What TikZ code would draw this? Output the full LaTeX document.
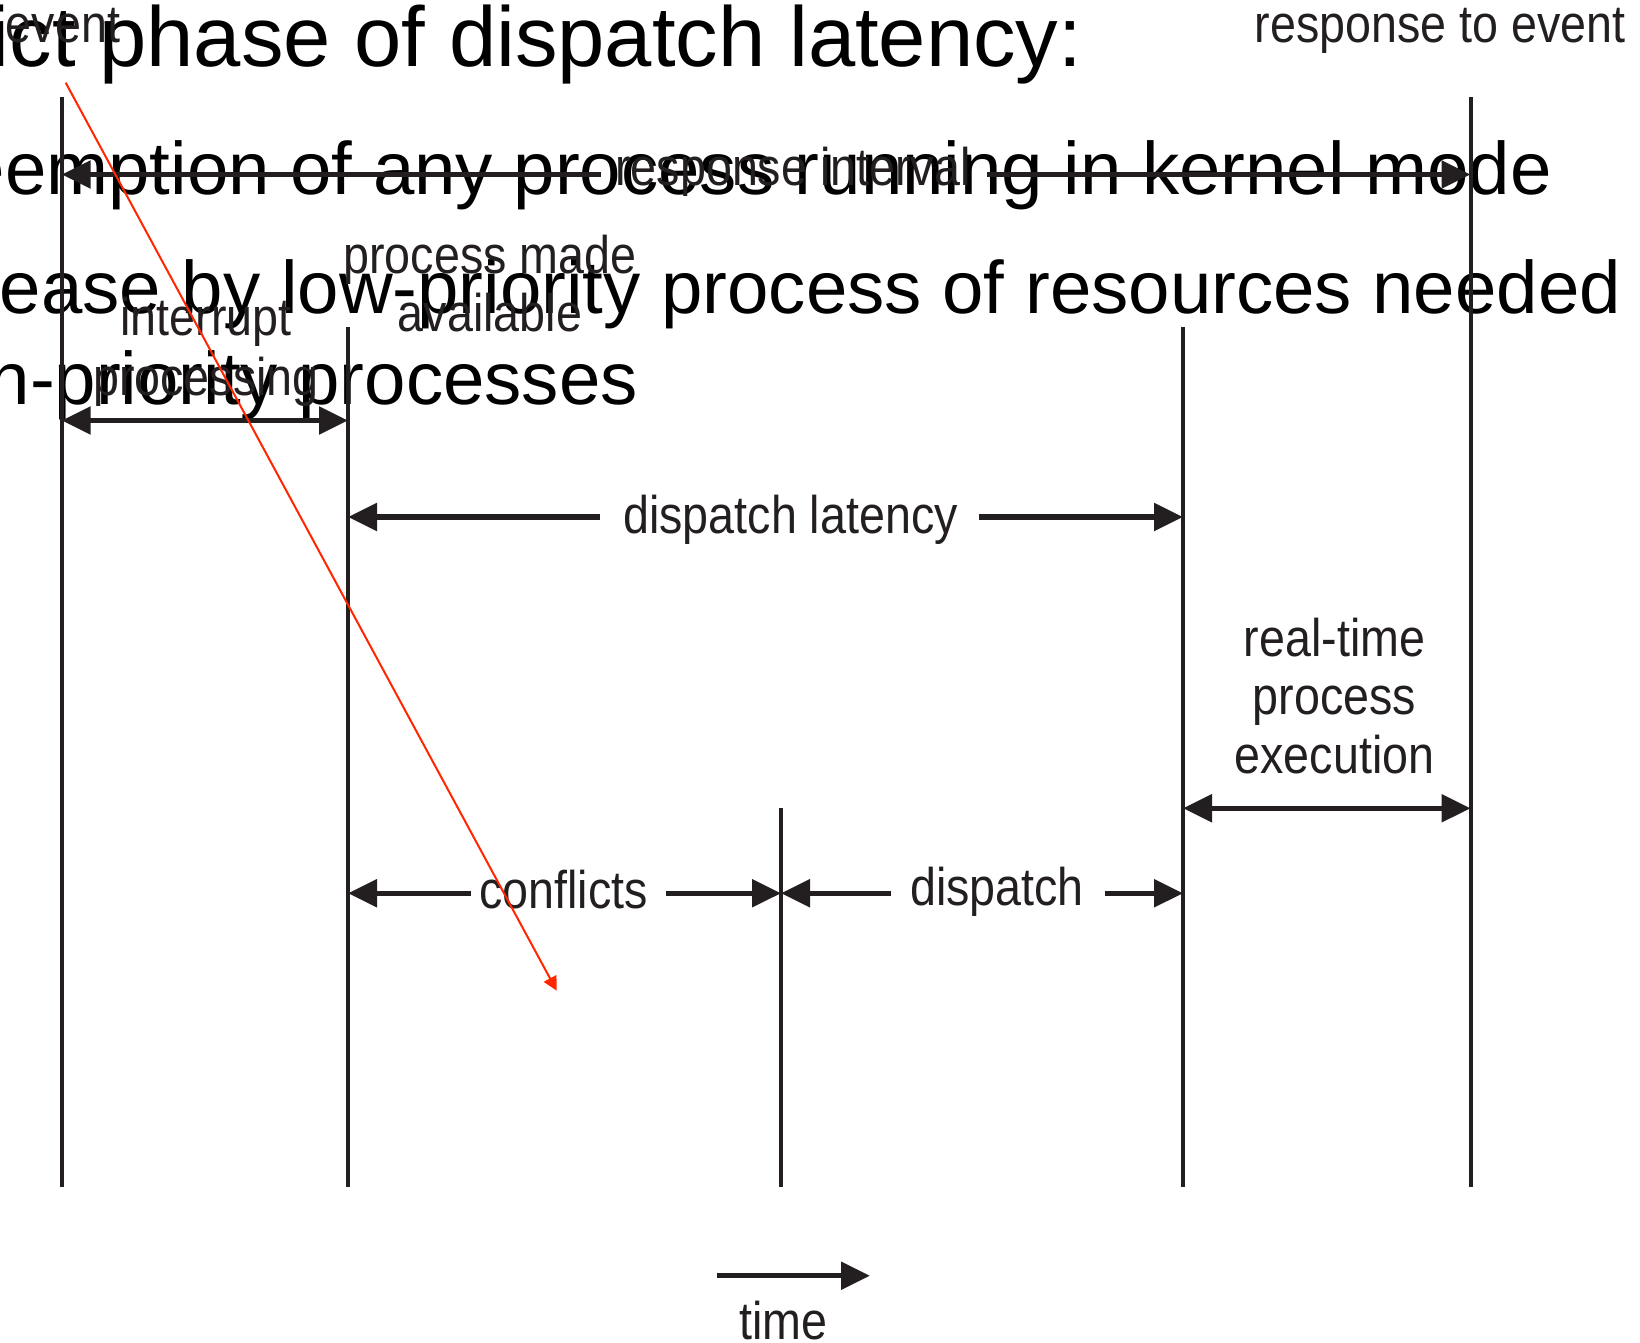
\documentclass[tikz,border=0pt]{standalone}
\usepackage{fontspec}
\setmainfont{Liberation Sans}
\newfontfamily\lblfont{Liberation Sans}[FakeStretch=0.88]
\usetikzlibrary{arrows.meta}
\definecolor{ink}{HTML}{231F20}
\definecolor{alert}{RGB}{255,38,0}
\tikzset{
  bigtip/.tip={Triangle[length=14.5pt,width=13.5pt]},
  smalltip/.tip={Triangle[length=7pt,width=7pt]},
  lbl/.style={font=\lblfont\fontsize{26.5pt}{29pt}\selectfont, text=ink, inner sep=0pt, anchor=base},
  headline/.style={font=\fontsize{42.5pt}{48pt}\selectfont, text=black, inner sep=0pt, anchor=base west},
  subline/.style={font=\fontsize{37.2pt}{42pt}\selectfont, text=black, inner sep=0pt, anchor=base west},
  mark line/.style={draw=ink, line width=2pt},
  span/.style={draw=ink, line width=2.75pt, -bigtip},
  span both/.style={draw=ink, line width=2.75pt, bigtip-bigtip},
  pointer/.style={draw=alert, line width=1pt, -smalltip},
}
\begin{document}
\begin{tikzpicture}[x=0.5pt, y=-0.5pt]
\useasboundingbox (0,0) rectangle (1640,1343);
\clip (0,0) rectangle (1640,1343);

% slide text
\node[headline] (l1) at (-208,67) {Conflict phase of dispatch latency:};
\node[subline] (l2) at (-111,195) {Preemption of any process running in kernel mode};
\node[subline] (l3) at (-112,314) {Release by low-priority process of resources needed};
\node[subline] (l4) at (-111,404) {high-priority processes};

% time markers
\coordinate (v1t) at (61.7,97.5);   \coordinate (v1b) at (61.7,1187);
\coordinate (v2t) at (348,327);     \coordinate (v2b) at (348,1187);
\coordinate (v3t) at (781,808);     \coordinate (v3b) at (781,1187);
\coordinate (v4t) at (1183,327);    \coordinate (v4b) at (1183,1187);
\coordinate (v5t) at (1470.5,97.5); \coordinate (v5b) at (1470.5,1187);
\foreach \v in {1,...,5} \draw[mark line] (v\v t) -- (v\v b);

% marker labels
\node[lbl] (ev) at (63,43) {event};
\node[lbl] (rte) at (1440,43) {response to event};
\node[lbl] (pm1) at (490,273) {process made};
\node[lbl] (pm2) at (490,331.5) {available};

% response interval
\coordinate (riL) at (61.7,174.5);  \coordinate (riA) at (601,174.5);
\coordinate (riB) at (987,174.5);   \coordinate (riR) at (1470.5,174.5);
\draw[span] (riA) -- (riL);
\draw[span] (riB) -- (riR);
\node[lbl] (ri) at (793,185) {response interval};

% interrupt processing
\coordinate (ipL) at (61.7,420.5);  \coordinate (ipR) at (348,420.5);
\draw[span both] (ipL) -- (ipR);
\node[lbl] (ip1) at (206,335) {interrupt};
\node[lbl] (ip2) at (206,395) {processing};

% dispatch latency
\coordinate (dlL) at (348,517);     \coordinate (dlA) at (600,517);
\coordinate (dlB) at (978.5,517);   \coordinate (dlR) at (1183,517);
\draw[span] (dlA) -- (dlL);
\draw[span] (dlB) -- (dlR);
\node[lbl] (dl) at (790.5,533) {dispatch latency};

% real-time process execution
\coordinate (rtL) at (1183,808.3);  \coordinate (rtR) at (1470.5,808.3);
\draw[span both] (rtL) -- (rtR);
\node[lbl] (rt1) at (1334.5,656.7) {real-time};
\node[lbl] (rt2) at (1334.5,714) {process};
\node[lbl] (rt3) at (1334.5,773) {execution};

% conflicts
\coordinate (cfL) at (348,893.3);   \coordinate (cfA) at (470.5,893.3);
\coordinate (cfB) at (665.7,893.3); \coordinate (cfR) at (781,893.3);
\draw[span] (cfA) -- (cfL);
\draw[span] (cfB) -- (cfR);
\node[lbl] (cf) at (563.5,908) {conflicts};

% dispatch
\coordinate (dpL) at (781,893.3);   \coordinate (dpA) at (891,893.3);
\coordinate (dpB) at (1105,893.3);  \coordinate (dpR) at (1183,893.3);
\draw[span] (dpA) -- (dpL);
\draw[span] (dpB) -- (dpR);
\node[lbl] (dp) at (997,905) {dispatch};

% time axis
\coordinate (tA) at (716.7,1275.7); \coordinate (tB) at (870,1275.7);
\draw[span] (tA) -- (tB);
\node[lbl] (tm) at (783.7,1339) {time};

% red pointer
\coordinate (pS) at (65.7,82.7);    \coordinate (pE) at (556.7,990.7);
\draw[pointer] (pS) -- (pE);
\end{tikzpicture}
\end{document}
